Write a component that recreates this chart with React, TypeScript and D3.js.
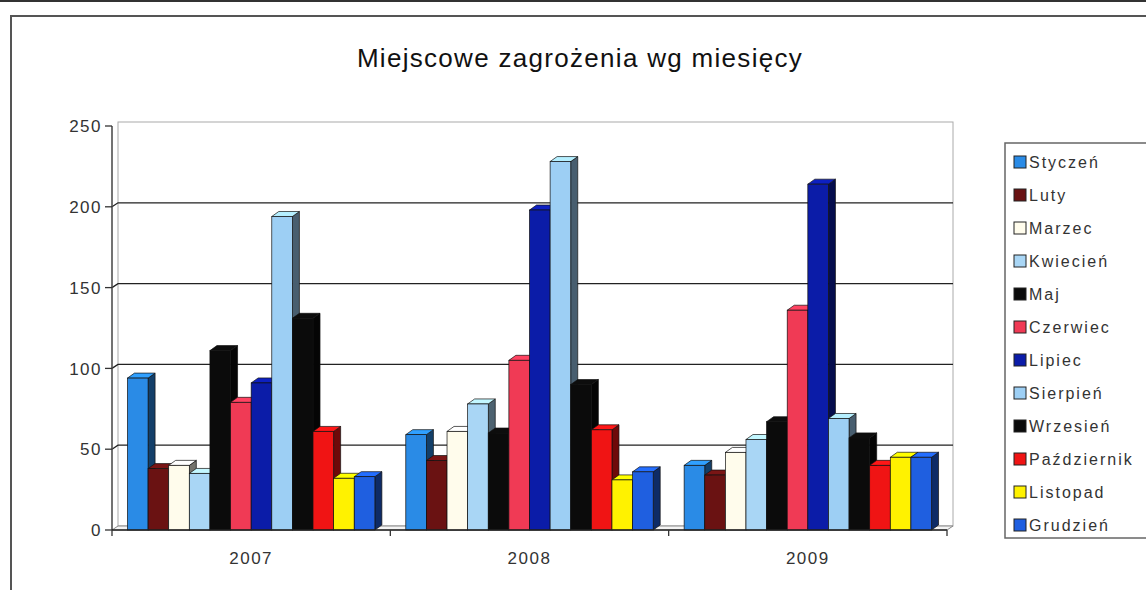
import React from 'react'
import * as d3 from 'd3'

const years = ['2007', '2008', '2009']
const months = ['Styczeń', 'Luty', 'Marzec', 'Kwiecień', 'Maj', 'Czerwiec', 'Lipiec', 'Sierpień', 'Wrzesień', 'Październik', 'Listopad', 'Grudzień']
const colors = ['#2a8be6', '#6a1212', '#fffcec', '#a9d6f5', '#0b0b0b', '#f03a55', '#0b1ca8', '#9dcff4', '#0b0b0b', '#f01414', '#fff200', '#1f5fe0']

// values per month, order: 2007, 2008, 2009
const styczen = [94, 59, 40]
const luty = [38, 43, 34]
const marzec = [40, 61, 48]
const kwiecien = [35, 78, 56]
const maj = [111, 60, 67]
const czerwiec = [79, 105, 136]
const lipiec = [91, 198, 214]
const sierpien = [194, 228, 69]
const wrzesien = [131, 90, 57]
const pazdziernik = [61, 62, 40]
const listopad = [32, 31, 45]
const grudzien = [33, 36, 45]
const series = [styczen, luty, marzec, kwiecien, maj, czerwiec, lipiec, sierpien, wrzesien, pazdziernik, listopad, grudzien]

const yTicks = [0, 50, 100, 150, 200, 250]

const W = 1146
const H = 590
const DX = 7
const DY = 5
const WALL_DX = 6
const WALL_DY = 4

export default function App() {
  const x0 = d3.scaleBand().domain(years).range([112, 947]).padding(0)
  const x1 = d3.scaleBand().domain(months).range([0, x0.bandwidth()]).paddingInner(0).paddingOuter(0.75)
  const y = d3.scaleLinear().domain([0, 250]).range([530, 126])
  const bw = x1.bandwidth()
  const base = y(0)

  const bars: any[] = []
  years.forEach((yr, yi) => {
    months.forEach((m, mi) => {
      const v = series[mi][yi]
      const xa = (x0(yr) as number) + (x1(m) as number)
      const xb = xa + bw
      const yt = y(v)
      const c = colors[mi]
      // side faces in the scan are very dark
      const side = d3.color(c)!.darker(2.2).toString()
      const top = d3.color(c)!.brighter(0.4).toString()
      bars.push(
        <g key={yr + m}>
          <polygon points={`${xb},${yt} ${xb + DX},${yt - DY} ${xb + DX},${base - DY} ${xb},${base}`} fill={side} stroke="#111" strokeWidth={0.7} />
          <polygon points={`${xa},${yt} ${xa + DX},${yt - DY} ${xb + DX},${yt - DY} ${xb},${yt}`} fill={top} stroke="#111" strokeWidth={0.7} />
          <rect x={xa} y={yt} width={bw} height={base - yt} fill={c} stroke="#111" strokeWidth={0.7} />
        </g>
      )
    })
  })

  const left = 112
  const right = 947

  return (
    <svg width={W} height={H} style={{ position: 'absolute', left: 0, top: 0, background: '#fff' }} fontFamily="'Liberation Sans', Arial, sans-serif">
      <line x1={0} x2={W} y1={1} y2={1} stroke="#333" strokeWidth={2} />
      <path d={`M11,${H} V16 H${W}`} fill="none" stroke="#555" strokeWidth={2} />

      <text x={580} y={67} textAnchor="middle" fontSize={26} letterSpacing={1.3} fill="#111">Miejscowe zagrożenia wg miesięcy</text>

      {/* back wall */}
      <rect x={left + WALL_DX} y={y(250) - WALL_DY} width={right - left} height={base - y(250)} fill="none" stroke="#aaa" strokeWidth={1} />
      {/* gridlines */}
      {yTicks.filter(t => t > 0 && t < 250).map(t => (
        <path key={t} d={`M${left},${y(t)} L${left + WALL_DX},${y(t) - WALL_DY} H${right + WALL_DX}`} fill="none" stroke="#222" strokeWidth={1.3} />
      ))}
      {/* floor */}
      <path d={`M${left},${base} L${left + WALL_DX},${base - WALL_DY} H${right + WALL_DX} L${right},${base} Z`} fill="#f4f4f4" stroke="#888" strokeWidth={1} />

      {bars}

      {/* y axis */}
      <line x1={left} x2={left} y1={y(250)} y2={base} stroke="#444" strokeWidth={1.5} />
      {yTicks.map(t => (
        <g key={t}>
          <line x1={left - 7} x2={left} y1={y(t)} y2={y(t)} stroke="#333" strokeWidth={1.3} />
          <text x={left - 10} y={y(t)} dy="0.36em" textAnchor="end" fontSize={17} letterSpacing={1.5} fill="#333">{t}</text>
        </g>
      ))}
      {/* x axis */}
      <line x1={left} x2={right} y1={base} y2={base} stroke="#222" strokeWidth={1.5} />
      {[...years.map(yr => x0(yr) as number), right].map((xv, i) => (
        <line key={i} x1={xv} x2={xv} y1={base} y2={base + 6} stroke="#333" strokeWidth={1.3} />
      ))}
      {years.map(yr => (
        <text key={yr} x={(x0(yr) as number) + x0.bandwidth() / 2} y={564} textAnchor="middle" fontSize={17} letterSpacing={1.5} fill="#333">{yr}</text>
      ))}

      {/* legend */}
      <rect x={1005} y={143} width={170} height={395} fill="#fff" stroke="#666" strokeWidth={1.5} />
      {months.map((m, i) => {
        const cy = 162 + i * 33
        return (
          <g key={m}>
            <rect x={1014} y={cy - 6} width={12} height={12} fill={colors[i]} stroke="#222" strokeWidth={1} />
            <text x={1029} y={cy} dy="0.36em" fontSize={16} letterSpacing={2} fill="#333">{m}</text>
          </g>
        )
      })}
    </svg>
  )
}
